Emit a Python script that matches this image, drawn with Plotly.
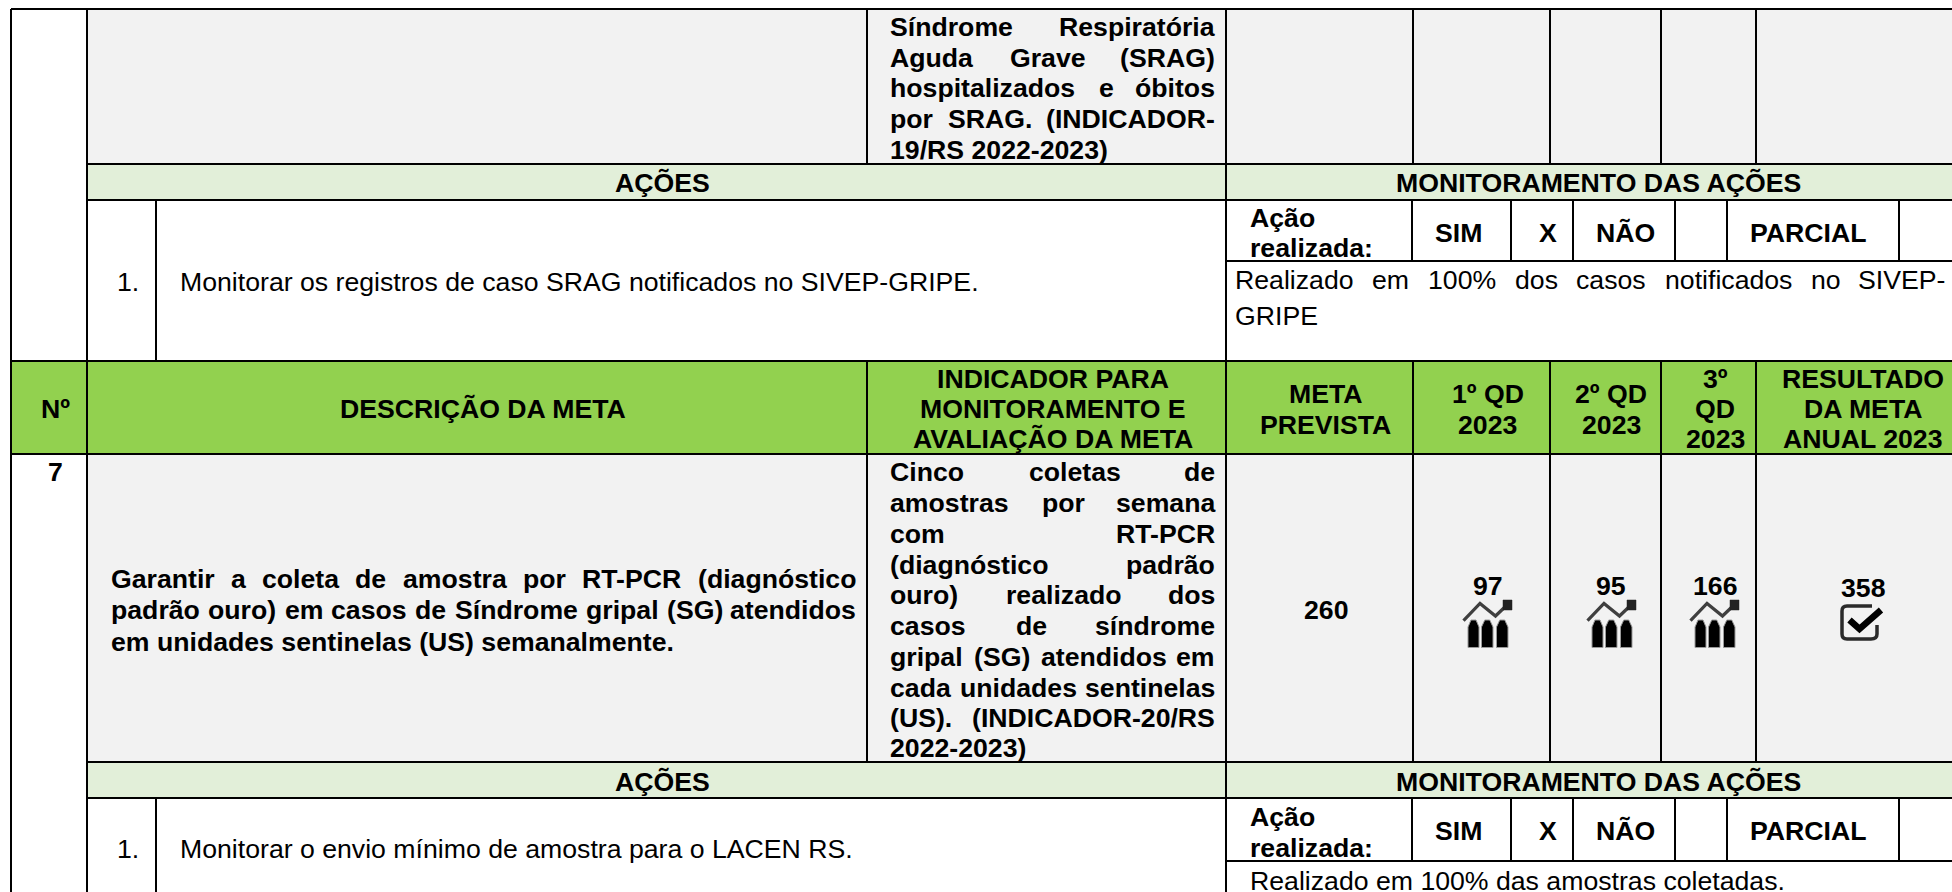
import plotly.graph_objects as go

# ---------- content ----------
header_no = "Nº"
header_desc = "DESCRIÇÃO DA META"
header_ind = ["INDICADOR PARA", "MONITORAMENTO E", "AVALIAÇÃO DA META"]
header_meta = ["META", "PREVISTA"]
header_q1 = ["1º QD", "2023"]
header_q2 = ["2º QD", "2023"]
header_q3 = ["3º", "QD", "2023"]
header_res = ["RESULTADO", "DA META", "ANUAL 2023"]
acoes_title = "AÇÕES"
monit_title = "MONITORAMENTO DAS AÇÕES"
acao_label = ["Ação", "realizada:"]
options = ["SIM", "X", "NÃO", "PARCIAL"]

ind6_lines = ["Síndrome Respiratória", "Aguda Grave (SRAG)", "hospitalizados e óbitos",
              "por SRAG. (INDICADOR-", "19/RS 2022-2023)"]
action6 = "Monitorar os registros de caso SRAG notificados no SIVEP-GRIPE."
result6_lines = ["Realizado em 100% dos casos notificados no SIVEP-", "GRIPE"]

goal7_no = "7"
goal7_lines = ["Garantir a coleta de amostra por RT-PCR (diagnóstico",
               "padrão ouro) em casos de Síndrome gripal (SG) atendidos",
               "em unidades sentinelas (US) semanalmente."]
ind7_lines = ["Cinco coletas de", "amostras por semana", "com RT-PCR", "(diagnóstico padrão",
              "ouro) realizado dos", "casos de síndrome", "gripal (SG) atendidos em",
              "cada unidades sentinelas", "(US). (INDICADOR-20/RS", "2022-2023)"]
meta7 = 260
quarters7 = [97, 95, 166]
annual7 = 358
action7 = "Monitorar o envio mínimo de amostra para o LACEN RS."
result7 = "Realizado em 100% das amostras coletadas."

# ---------- table geometry (grid lines, in page pixels) ----------
W, H = 1952, 892
X_OUT, X_NO, X_NUM, X_DESC, X_IND, X_META, X_Q1, X_Q2, X_Q3 = 11, 87, 156, 867, 1226, 1413, 1550, 1661, 1756
X_ACT = [1412, 1511, 1573, 1675, 1727, 1899]
Y_TOP, Y_A1, Y_B1, Y_SUB1, Y_HEAD, Y_ROW7, Y_A2, Y_B2, Y_SUB2 = 9, 164, 200, 261, 361, 454, 762, 798, 861

GRAY, PALE, GREEN = "#F2F2F2", "#E2EFD9", "#92D14F"
FONT = "Liberation Sans"
SIZE = 26.67
DY = 1  # optical centring of the text boxes

# ---------- Helvetica/Arial advance widths for justification ----------
REG = dict(zip("abcdefghijklmnopqrstuvwxyz", [556,556,500,556,556,278,556,556,222,222,500,222,833,556,556,556,556,333,500,278,556,500,722,500,500,500]))
BLD = dict(zip("abcdefghijklmnopqrstuvwxyz", [556,611,556,611,556,333,611,611,278,278,556,278,889,611,611,611,611,389,556,333,611,556,778,556,556,500]))
REG.update(dict(zip("ABCDEFGHIJKLMNOPQRSTUVWXYZ", [667,667,722,722,667,611,778,722,278,500,667,556,833,722,778,667,778,722,667,611,722,667,944,667,667,611])))
BLD.update(dict(zip("ABCDEFGHIJKLMNOPQRSTUVWXYZ", [722,722,722,722,667,611,778,722,278,556,722,611,833,722,778,667,778,722,667,611,722,667,944,667,667,611])))
for t in (REG, BLD):
    t.update({c: 556 for c in "0123456789"})
    t.update({"-": 333, ".": 278, "/": 278, "%": 889, "(": 333, ")": 333, ":": 333})
    t.update({"á": t["a"], "ã": t["a"], "é": t["e"], "í": t["i"], "ó": t["o"]})


def width(word, bold):
    table = BLD if bold else REG
    return sum(table.get(c, 556) for c in word) * SIZE / 1000


annotations, shapes = [], []


def text(x, y, s, bold=False, anchor="center"):
    annotations.append(dict(x=x, y=y + DY, xref="x", yref="y", text=f"<b>{s}</b>" if bold else s,
                            showarrow=False, xanchor=anchor, yanchor="middle", borderpad=0,
                            font=dict(family=FONT, size=SIZE, color="#000000")))


def justified(left, right, y, line, bold=False):
    words = line.split(" ")
    natural = [width(w, bold) for w in words]
    gap = (right - left - sum(natural)) / (len(words) - 1)
    x = left
    for i, (w, n) in enumerate(zip(words, natural)):
        if i == len(words) - 1:
            text(right, y, w, bold, "right")
        else:
            text(x, y, w, bold, "left")
        x += n + gap


def rect(x0, y0, x1, y1, fill):
    shapes.append(dict(type="rect", x0=x0, y0=y0, x1=x1, y1=y1, xref="x", yref="y",
                       fillcolor=fill, line=dict(width=0), layer="below"))


def line(x0, y0, x1, y1, w=2):
    shapes.append(dict(type="line", x0=x0, y0=y0, x1=x1, y1=y1, xref="x", yref="y",
                       line=dict(color="#000000", width=w)))


def path(d, color="#000000", w=0, fill=None):
    s = dict(type="path", path=d, xref="x", yref="y", line=dict(color=color, width=w))
    if fill:
        s["fillcolor"] = fill
    shapes.append(s)


# fills
rect(X_NO, Y_TOP, W, Y_A1, GRAY)
rect(X_NO, Y_A1, W, Y_B1, PALE)
rect(X_OUT, Y_HEAD, W, Y_ROW7, GREEN)
rect(X_NO, Y_ROW7, W, Y_A2, GRAY)
rect(X_NO, Y_A2, W, Y_B2, PALE)

# horizontal rules
line(X_OUT, Y_TOP, W, Y_TOP)
for y in (Y_A1, Y_B1, Y_A2, Y_B2):
    line(X_NO, y, W, y)
for y in (Y_HEAD, Y_ROW7):
    line(X_OUT, y, W, y)
for y in (Y_SUB1, Y_SUB2):
    line(X_IND, y, W, y)

# vertical rules
line(X_OUT, Y_TOP, X_OUT, H)
line(X_NO, Y_TOP, X_NO, H)
line(X_IND, Y_TOP, X_IND, H)
for y0, y1 in ((Y_TOP, Y_A1), (Y_HEAD, Y_A2)):
    for x in (X_DESC, X_META, X_Q1, X_Q2, X_Q3):
        line(x, y0, x, y1)
for y0, y1 in ((Y_B1, Y_HEAD), (Y_B2, H)):
    line(X_NUM, y0, X_NUM, y1)
for y0, y1 in ((Y_B1, Y_SUB1), (Y_B2, Y_SUB2)):
    for x in X_ACT:
        line(x, y0, x, y1)

# ---------- text ----------
IND_L, IND_R = 889, 1216
DESC_L, DESC_R = 110, 856.5
CELL_NUM_X = 128
ACT_TEXT_X = 179
X_RES_L, X_RES_R, X_LAB_L = 1233.5, 1946, 1248.5
X_C_META, X_C_Q1, X_C_Q2, X_C_Q3, X_C_RES = 1325.75, 1487.6, 1611, 1715, 1862.6

for y, s in zip((26, 56.7, 87.3, 118.3, 149), ind6_lines):
    if s is ind6_lines[-1]:
        text(IND_L, y, s, True, "left")
    else:
        justified(IND_L, IND_R, y, s, True)

for y_a in (182.3, 780.7):
    text(662.5, y_a, acoes_title, True)
    text(1598, y_a, monit_title, True)

text(CELL_NUM_X, 281, "1.")
text(ACT_TEXT_X, 281, action6, False, "left")
justified(X_RES_L, X_RES_R, 279.3, result6_lines[0])
text(X_RES_L, 315, result6_lines[1], False, "left")

for y_lab, y_opt in (((216.7, 247.3), 231.7), ((815.7, 846.7), 830)):
    for y, s in zip(y_lab, acao_label):
        text(X_LAB_L, y, s, True, "left")
    for x, s in zip((1458, 1548, 1625.75, 1808), options):
        text(x, y_opt, s, True)

# header
text(55.6, 408.3, header_no, True)
text(483, 408.3, header_desc, True)
Y3 = (378.3, 407.7, 438.3)
Y2 = (392.7, 423.7)
for y, s in zip(Y3, header_ind):
    text(1053, y, s, True)
for y, s in zip(Y2, header_meta):
    text(X_C_META, y, s, True)
for y, s in zip(Y2, header_q1):
    text(X_C_Q1, y, s, True)
for y, s in zip(Y2, header_q2):
    text(X_C_Q2, y, s, True)
for y, s in zip(Y3, header_q3):
    text(X_C_Q3, y, s, True)
for y, s in zip(Y3, header_res):
    text(X_C_RES, y, s, True)

# goal 7
text(55.6, 471, goal7_no, True)
for y, s in zip((578.3, 609.3), goal7_lines[:2]):
    justified(DESC_L, DESC_R, y, s, True)
text(DESC_L, 640.7, goal7_lines[2], True, "left")
for y, s in zip((471, 502, 532.7, 563.7, 594.3, 625, 656, 686.7, 716.7, 747.3), ind7_lines):
    if s is ind7_lines[-1]:
        text(IND_L, y, s, True, "left")
    else:
        justified(IND_L, IND_R, y, s, True)
text(X_C_META, 609, str(meta7), True)
for x, v in zip((X_C_Q1, X_C_Q2, X_C_Q3), quarters7):
    text(x, 585, str(v), True)
text(X_C_RES, 586.7, str(annual7), True)

text(CELL_NUM_X, 848.3, "1.")
text(ACT_TEXT_X, 848.3, action7, False, "left")
text(X_LAB_L, 880, result7, False, "left")


# ---------- icons ----------
def chart_icon(cx):
    for a, b in ((-20, -9), (-6.5, 5), (8.5, 20)):
        path(f"M {cx+a},647.5 L {cx+a},627 L {cx+(a+b)/2-2.5},620 L {cx+(a+b)/2+2.5},620 L {cx+b},627 L {cx+b},647.5 Z",
             color="#9a9a9a", w=1, fill="#000000")
    path(f"M {cx-24.5},620.7 L {cx-8},603.5 L {cx+7.5},616 L {cx+20},604", color="#3f3f3f", w=3.2)
    path(f"M {cx+15},600 L {cx+24},600 L {cx+24},610 L {cx+15},610 Z", color="#222222", w=0.5, fill="#222222")


for cx in (1488, 1612, 1715):
    chart_icon(cx)

path("M 1872,606 L 1847,606 Q 1842,606 1842,611 L 1842,634 Q 1842,639 1847,639 L 1871,639 Q 1877,639 1877,634 L 1877,625",
     color="#2a2a2a", w=3.5)
path("M 1849.5,620 L 1859.5,629 L 1881,610", color="#000000", w=6.5)

fig = go.Figure()
fig.update_layout(
    width=W, height=H, autosize=False,
    margin=dict(l=0, r=0, t=0, b=0),
    paper_bgcolor="#FFFFFF", plot_bgcolor="#FFFFFF",
    xaxis=dict(range=[0, W], visible=False, fixedrange=True),
    yaxis=dict(range=[H, 0], visible=False, fixedrange=True),
    showlegend=False,
    shapes=shapes,
    annotations=annotations,
)
fig.write_html("out.html", config={"displayModeBar": False},
               post_script="document.body.style.margin='0';document.documentElement.style.overflow='hidden';")
